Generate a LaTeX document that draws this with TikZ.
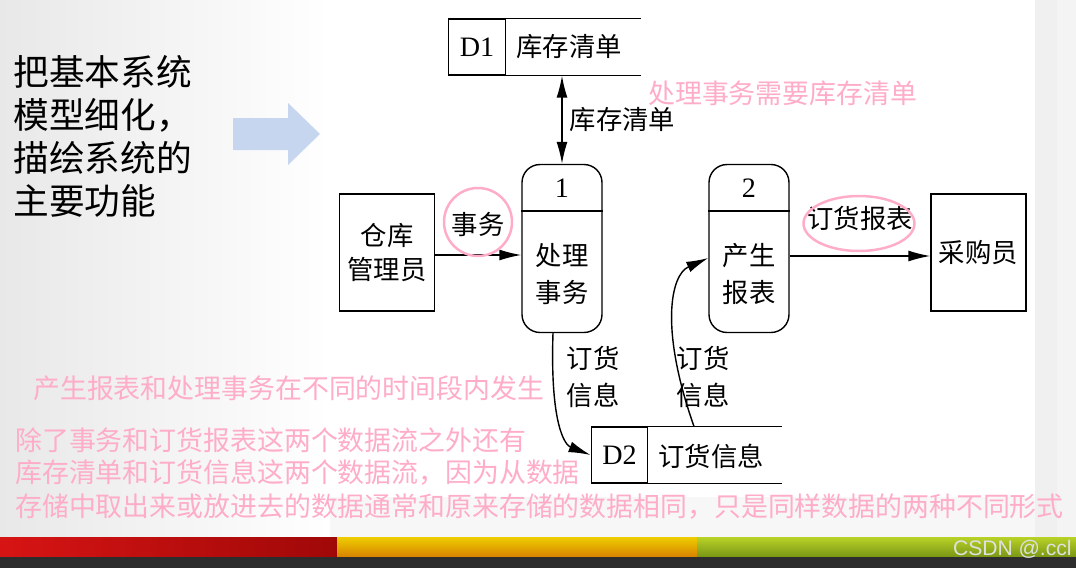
\documentclass[tikz,border=0pt]{standalone}
\usepackage{fontspec}
\setmainfont{Liberation Serif}
\setsansfont{Liberation Sans}
\newfontfamily\cjk{Noto Sans CJK SC}
\definecolor{NotePink}{RGB}{255,172,200}
\definecolor{ArrowBlue}{RGB}{198,214,238}
\definecolor{BarRedA}{RGB}{215,20,20}
\definecolor{BarRedB}{RGB}{160,8,8}
\definecolor{BarOrangeA}{RGB}{238,205,0}
\definecolor{BarOrangeB}{RGB}{215,130,0}
\definecolor{BarGreenA}{RGB}{185,210,40}
\definecolor{BarGreenB}{RGB}{120,150,20}
\definecolor{BarDark}{RGB}{45,45,45}
\usepackage{tikz}
\usetikzlibrary{
  positioning,
  arrows.meta,
  shapes.geometric,
  calc
}
\tikzset{
  % External entity
  entity/.style={
    draw,
    line width=0.8pt,
    minimum width=1.9cm,
    minimum height=2.34cm,
    align=center,
    font=\cjk\fontsize{15}{19}\selectfont
  },
  % Process box
  proc/.style={
    draw,
    line width=0.8pt,
    rounded corners=0.36cm,
    minimum width=1.6cm,
    minimum height=3.36cm,
    inner sep=0pt
  },
  % Data store id box
  storeid/.style={
    draw,
    line width=0.8pt,
    minimum width=1.13cm,
    minimum height=1.12cm,
    inner sep=0pt,
    font=\fontsize{16}{18}\selectfont
  },
  % Plain diagram text
  dtext/.style={
    align=center,
    inner sep=0pt,
    font=\cjk\fontsize{15}{21.5}\selectfont
  },
  % Arrow tip of the flows
  tip/.style={
    Latex[length=4.4mm,width=2.2mm]
  },
  % Data flow
  flow/.style={
    line width=0.8pt,
    -{Latex[length=4.4mm,width=2.2mm]}
  },
  % Pink remark
  note/.style={
    anchor=west,
    inner sep=0pt,
    text=NotePink,
    font=\cjk\fontsize{15.3}{18}\selectfont
  },
  % Pink highlight ring
  ring/.style={
    draw=NotePink,
    line width=1.4pt,
    inner sep=0pt
  }
}
\begin{document}
\begin{tikzpicture}[x=0.02cm, y=-0.02cm]
  \useasboundingbox (0,0) rectangle (1076,568);
  % Slide background
  \fill[gray!6] (0,0) rectangle (1076,568);
  \shade[left color=gray!18, right color=white] (0,0) rectangle (330,537);
  \fill[white] (330,0) rectangle (1035,497);
  \fill[gray!12] (1035,0) rectangle (1057,537);
  \fill[gray!9] (1057,0) rectangle (1076,537);
  % Bottom bars
  \shade[left color=BarRedA, right color=BarRedB] (0,537) rectangle (337,557);
  \shade[top color=BarOrangeA, bottom color=BarOrangeB] (337,537) rectangle (697,557);
  \shade[top color=BarGreenA, bottom color=BarGreenB] (697,537) rectangle (1076,557);
  \fill[BarDark] (0,557) rectangle (1076,568);
  \node[anchor=east, inner sep=0pt, text=gray!25, font=\sffamily\fontsize{12}{13}\selectfont]
    (mark) at (1072,549) {CSDN @.ccl};

  % Left caption and arrow
  \node[anchor=north west, align=left, inner sep=0pt, font=\cjk\fontsize{20.3}{24.5}\selectfont]
    (caption) at (13,55) {把基本系统\\模型细化，\\描绘系统的\\主要功能};
  \fill[ArrowBlue] (233,118) -- (288,118) -- (288,103) -- (320,134)
    -- (288,165) -- (288,150) -- (233,150) -- cycle;

  % Data stores
  \node[storeid] (d1) at (477,47) {D1};
  \draw[line width=0.8pt] (d1.north east) -- ++(135,0);
  \draw[line width=0.8pt] (d1.south east) -- ++(135,0);
  \node[dtext] (d1name) at (569,47) {库存清单};
  \node[storeid] (d2) at (619.5,455) {D2};
  \draw[line width=0.8pt] (d2.north east) -- ++(134,0);
  \draw[line width=0.8pt] (d2.south east) -- ++(134,0);
  \node[dtext] (d2name) at (711,456) {订货信息};

  % Processes
  \foreach \n/\x/\txt in {1/562/处理\\事务, 2/749/产生\\报表} {
    \node[proc] (p\n) at (\x,248.5) {};
    \draw[line width=0.8pt] ($(p\n.north west)+(0,47)$) -- ($(p\n.north east)+(0,47)$);
    \node[dtext, font=\fontsize{16}{18}\selectfont] (num\n) at (\x,188) {\n};
    \node[dtext] (txt\n) at (\x,274) {\txt};
  }

  % External entities
  \node[entity] (clerk) at (387,252.5) {仓库\\管理员};
  \node[entity] (buyer) at (978.5,252.5) {采购员};

  % Flows
  \draw[line width=0.8pt, {Latex[length=4.4mm,width=2.2mm]}-{Latex[length=4.4mm,width=2.2mm]}]
    (p1.north |- d1.south) -- (p1.north)
    node[dtext, midway, right=4pt] (lst) {库存清单};
  \draw[flow] (clerk.east |- 0,255) -- (p1.west |- 0,255)
    node[dtext, midway, above=10pt] (tx) {事务};
  \draw[flow] (p2.east |- 0,256) -- (buyer.west |- 0,256)
    node[dtext, midway, above=14pt] (rep) {订货报表};
  \draw[flow] ($(p1.south)+(-9,0)$) .. controls (550,425) and (565,445) .. (d2.west);
  \draw[flow] ($(d2.north east)+(45.5,0)$) .. controls (660,330) and (670,275) .. (p2.west |- 0,258);
  \node[dtext] (ordA) at (593,377) {订货\\信息};
  \node[dtext] (ordB) at (703,377) {订货\\信息};

  % Highlights
  \node[ring, circle, minimum size=1.36cm] (ringA) at (478,222) {};
  \node[ring, ellipse, minimum width=2.22cm, minimum height=1.1cm] (ringB) at (859,223.5) {};

  % Remarks
  \node[note] (noteA) at (648,93) {处理事务需要库存清单};
  \node[note] (noteB) at (33,388) {产生报表和处理事务在不同的时间段内发生};
  \node[note] (noteC) at (15,440) {除了事务和订货报表这两个数据流之外还有};
  \node[note] (noteD) at (15,473) {库存清单和订货信息这两个数据流，因为从数据};
  \node[note] (noteE) at (15,507) {存储中取出来或放进去的数据通常和原来存储的数据相同，只是同样数据的两种不同形式};
\end{tikzpicture}
\end{document}
